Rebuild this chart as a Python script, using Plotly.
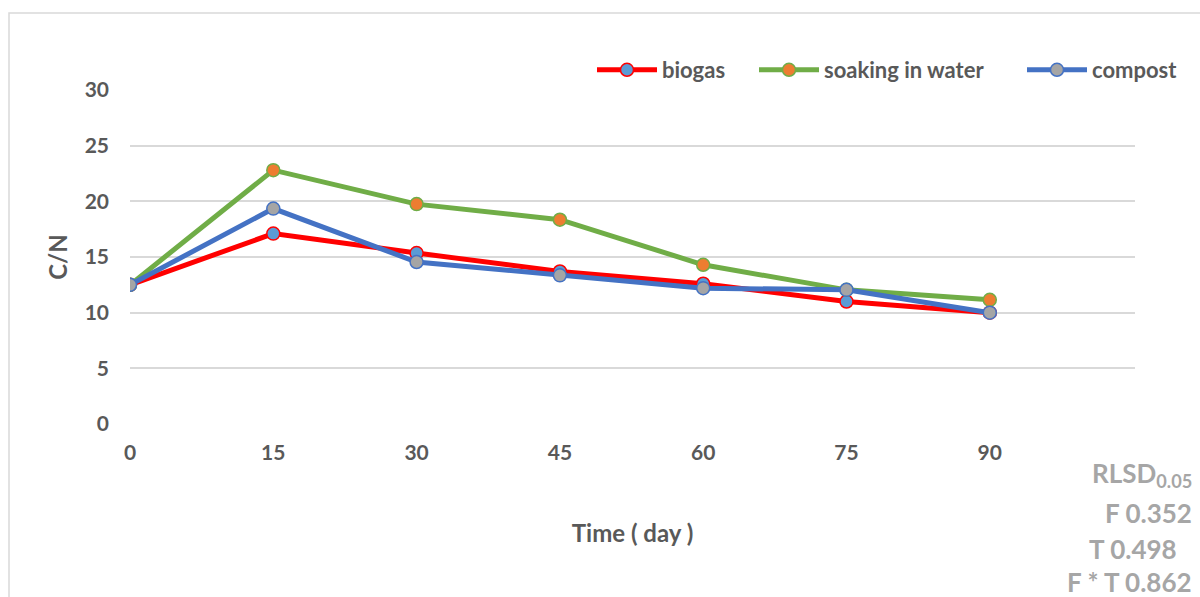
import plotly.graph_objects as go

days = [0, 15, 30, 45, 60, 75, 90]
biogas = [12.5, 17.1, 15.35, 13.7, 12.6, 11.0, 10.0]
soaking = [12.5, 22.8, 19.75, 18.35, 14.3, 12.05, 11.15]
compost = [12.5, 19.35, 14.55, 13.35, 12.2, 12.05, 10.0]

series = [
    ("biogas", biogas, "#ff0000", "#5b9bd5", "legend"),
    ("soaking in water", soaking, "#70ad47", "#ed7d31", "legend2"),
    ("compost", compost, "#4472c4", "#a5a5a5", "legend3"),
]

FONT = "Lato"
TXT = "#595959"

fig = go.Figure()
for name, vals, lc, mc, lg in series:
    fig.add_trace(go.Scatter(
        x=days, y=vals, name=name, mode="lines+markers", legend=lg,
        line=dict(color=lc, width=5),
        marker=dict(size=13, color=mc, line=dict(color=lc, width=1.5)),
    ))

W, H = 1200, 597
L, R, T, B = 130, 65, 90, 173
pw, ph = W - L - R, H - T - B


def px(x):
    return (x - L) / pw


def py(y):
    return (H - B - y) / ph


def leg(xl):
    return dict(orientation="h", x=px(xl), xanchor="left", y=py(70), yanchor="middle",
                font=dict(family=FONT, size=22, color=TXT, weight="bold"),
                itemwidth=60, bgcolor="rgba(0,0,0,0)")


fig.update_layout(
    width=W, height=H,
    margin=dict(l=L, r=R, t=T, b=B),
    paper_bgcolor="white", plot_bgcolor="white",
    font=dict(family=FONT, color=TXT, size=17),
    showlegend=True,
    legend=leg(592), legend2=leg(754), legend3=leg(1022),
    xaxis=dict(range=[0, 105.2], tickvals=days, ticktext=[str(d) for d in days],
               showgrid=False, zeroline=False, showline=False,
               tickfont=dict(family=FONT, size=21, color=TXT, weight="bold"),
               ticklabelstandoff=14,
               title=dict(text="Time ( day )", font=dict(family=FONT, size=24, color=TXT, weight="bold"),
                          standoff=62)),
    yaxis=dict(range=[0, 30], dtick=5, showgrid=True, gridcolor="#d9d9d9", gridwidth=1.5,
               zeroline=False, showline=False,
               tickfont=dict(family=FONT, size=21, color=TXT, weight="bold"),
               ticklabelstandoff=20,
               title=dict(text="C/N", font=dict(family=FONT, size=24, color=TXT, weight="bold"),
                          standoff=10)),
    shapes=[dict(type="rect", xref="paper", yref="paper",
                 x0=px(9), x1=px(1260), y0=py(13), y1=py(660),
                 line=dict(color="#d9d9d9", width=1.5), fillcolor="rgba(0,0,0,0)", layer="below")],
)

ann_col = "#a6a6a6"
anns = [
    ("RLSD<sub>0.05</sub>", 1194, 474),
    ("F 0.352", 1194, 513),
    ("T 0.498", 1179, 549),
    ("F * T 0.862", 1194, 582),
]
for text, xr, yc in anns:
    fig.add_annotation(text=text, xref="paper", yref="paper", x=px(xr), y=py(yc),
                       xanchor="right", yanchor="middle", showarrow=False,
                       font=dict(family=FONT, size=26, color=ann_col, weight="bold"))

fig.write_html("out.html", config={"displayModeBar": False},
               post_script="document.body.style.margin='0';document.body.style.overflow='hidden';")
